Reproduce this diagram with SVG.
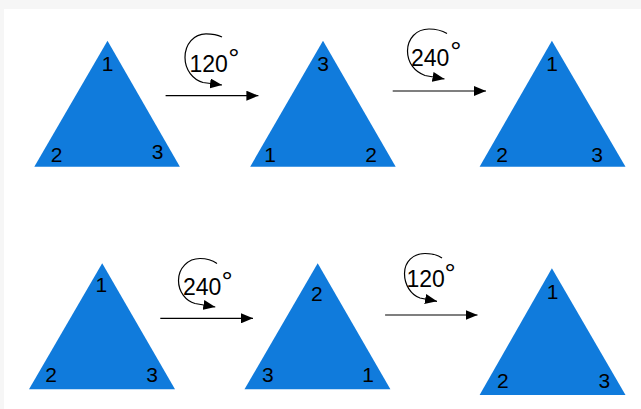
<svg xmlns="http://www.w3.org/2000/svg" width="641" height="409" viewBox="0 0 641 409">
  <style>
    .tri { fill: #107bdc; }
    .lbl { font-family: "Liberation Sans", Arial, sans-serif; font-size: 21px; fill: #000; text-anchor: middle; }
    .ang { font-family: "Liberation Sans", Arial, sans-serif; font-size: 23px; fill: #000; }
    .deg { font-size: 28px; }
    .ln { stroke: #000; stroke-width: 1.2; fill: none; marker-end: url(#ah); }
  </style>
  <defs>
    <marker id="ah" markerUnits="userSpaceOnUse" markerWidth="12" markerHeight="10" refX="12" refY="5" orient="auto">
      <path d="M0,0 L12,5 L0,10 z" fill="#000"/>
    </marker>
  </defs>
  <rect x="0" y="0" width="641" height="409" fill="#f6f6f6"/>
  <rect x="4" y="9" width="637" height="400" fill="#ffffff"/>

  <g id="tri1">
    <polygon class="tri" points="107.5,40.7 179.9,166.7 34.3,166.7"/>
    <text class="lbl" x="107.5" y="70.7">1</text>
    <text class="lbl" x="56.5" y="161.5">2</text>
    <text class="lbl" x="157.5" y="159">3</text>
  </g>
  <g id="tri2">
    <polygon class="tri" points="323,40.7 395.7,166.7 250.2,166.7"/>
    <text class="lbl" x="323" y="70.7">3</text>
    <text class="lbl" x="270" y="161.7">1</text>
    <text class="lbl" x="371.2" y="161.7">2</text>
  </g>
  <g id="tri3">
    <polygon class="tri" points="551.9,40.7 625.5,166.7 479.6,166.7"/>
    <text class="lbl" x="552" y="70.7">1</text>
    <text class="lbl" x="502" y="161.7">2</text>
    <text class="lbl" x="597" y="161.7">3</text>
  </g>
  <g id="tri4">
    <polygon class="tri" points="102.2,263.3 175,389.3 29,389.3"/>
    <text class="lbl" x="101.4" y="292.3">1</text>
    <text class="lbl" x="51.1" y="382.3">2</text>
    <text class="lbl" x="152.1" y="382.3">3</text>
  </g>
  <g id="tri5">
    <polygon class="tri" points="317.7,263.3 390.4,389.3 244.5,389.3"/>
    <text class="lbl" x="316.8" y="300.7">2</text>
    <text class="lbl" x="267.8" y="382.3">3</text>
    <text class="lbl" x="368" y="382.3">1</text>
  </g>
  <g id="tri6">
    <polygon class="tri" points="551.9,268.3 625.5,395 479.6,395"/>
    <text class="lbl" x="552.7" y="299">1</text>
    <text class="lbl" x="502.9" y="388.3">2</text>
    <text class="lbl" x="604.3" y="388.3">3</text>
  </g>

  <g id="rot1">
    <text class="ang" x="189.5" y="71.5">120<tspan class="deg" dx="0.3" dy="-3.5">°</tspan></text>
  </g>
  <g id="rot2">
    <text class="ang" x="411" y="65.5">240<tspan class="deg" dx="0.8" dy="-4.5">°</tspan></text>
  </g>
  <g id="rot3">
    <text class="ang" x="183" y="294.5">240<tspan class="deg" dx="0" dy="-4">°</tspan></text>
  </g>
  <g id="rot4">
    <text class="ang" x="406.5" y="287">120<tspan class="deg" dx="-0.5" dy="-4">°</tspan></text>
  </g>

  <g id="connectors">
    <path class="ln" d="M165.6,95.7 H258.4"/>
    <path class="ln" d="M392.7,91 H486"/>
    <path class="ln" d="M160.3,318.3 H253"/>
    <path class="ln" d="M385.1,315 H477.5"/>
    <path class="ln" d="M222,37 C217,34.5 212,33.8 206,33.8 C194,33.8 185,44 185,57.5 C185,70 193,79.5 203,82.5 L222,85"/>
    <path class="ln" d="M447,33.5 C441,30 435,29 429,29 C416,29 407.5,39 407.5,51 C407.5,63 415,72 425,75.5 L444.5,79"/>
    <path class="ln" d="M217,263.5 C212,260 206,258.5 200,258.5 C188,258.5 178.5,268 178.5,280.5 C178.5,292 186,301 195,303.5 L215.3,307"/>
    <path class="ln" d="M442,258 C437,254.5 431,253.5 425,253.5 C413,253.5 404.5,262 404.5,273.5 C404.5,285 411,295 420,298 L437,301.3"/>
  </g>
</svg>
